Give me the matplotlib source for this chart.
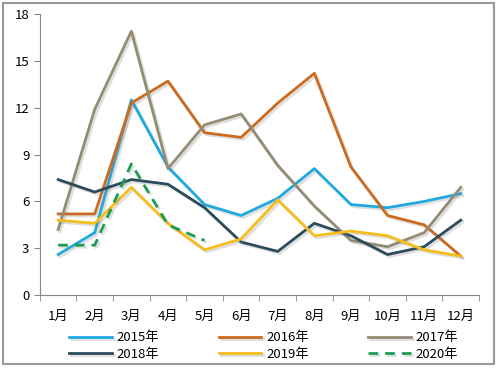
import matplotlib.pyplot as plt
import matplotlib.patheffects as pe
from matplotlib.patches import Rectangle
import numpy as np

plt.rcParams['font.family'] = ['Noto Sans CJK SC', 'DejaVu Sans']

months = ['1月', '2月', '3月', '4月', '5月', '6月', '7月', '8月', '9月', '10月', '11月', '12月']

y2015 = [2.6, 4.0, 12.5, 8.2, 5.8, 5.1, 6.2, 8.1, 5.8, 5.6, 6.0, 6.5]
y2016 = [5.2, 5.2, 12.3, 13.7, 10.4, 10.1, 12.3, 14.2, 8.2, 5.1, 4.5, 2.5]
y2017 = [4.2, 11.9, 16.9, 8.1, 10.9, 11.6, 8.3, 5.7, 3.5, 3.1, 4.0, 6.9]
y2018 = [7.4, 6.6, 7.4, 7.1, 5.6, 3.4, 2.8, 4.6, 3.8, 2.6, 3.1, 4.8]
y2019 = [4.8, 4.6, 6.9, 4.6, 2.9, 3.6, 6.1, 3.8, 4.1, 3.8, 2.9, 2.5]
y2020 = [3.2, 3.2, 8.4, 4.5, 3.5]

series = [
    ('2015年', y2015, '#1FA9DF', '-'),
    ('2016年', y2016, '#CC6A1F', '-'),
    ('2017年', y2017, '#948B73', '-'),
    ('2018年', y2018, '#2C4C5C', '-'),
    ('2019年', y2019, '#F5BD1C', '-'),
    ('2020年', y2020, '#1F9C4E', '--'),
]

fig = plt.figure(figsize=(4.98, 3.68), dpi=100)
ax = fig.add_axes([0.080, 0.198, 0.882, 0.764])

shadow = [pe.SimpleLineShadow(offset=(1.5, -1.5), shadow_color='gray', alpha=0.25), pe.Normal()]

handles = {}
for name, vals, color, ls in series:
    x = np.arange(len(vals))
    line, = ax.plot(x, vals, color=color, linestyle=ls, linewidth=2,
                    label=name, path_effects=shadow)
    if ls == '--':
        line.set_dashes((3.5, 2.5))
    handles[name] = line

ax.set_xlim(-0.5, 11.5)
ax.set_ylim(0, 18)
ax.set_yticks(np.arange(0, 19, 3))
ax.set_xticks(np.arange(12))
ax.set_xticklabels(months)
ax.set_xticks(np.arange(-0.5, 12, 1), minor=True)
ax.tick_params(axis='x', which='major', length=0, labelsize=9.5, pad=11)
ax.tick_params(axis='x', which='minor', length=4, color='#888888', direction='out')
ax.tick_params(axis='y', length=4, color='#888888', labelsize=9.5)

for s in ['top', 'right']:
    ax.spines[s].set_visible(False)
for s in ['left', 'bottom']:
    ax.spines[s].set_color('#888888')

order = ['2015年', '2018年', '2016年', '2019年', '2017年', '2020年']
fig.legend([handles[n] for n in order], order, ncol=3, loc='lower center',
           bbox_to_anchor=(0.53, -0.012), frameon=False, fontsize=9.5,
           handlelength=3.2, columnspacing=4.5, labelspacing=0.25, handletextpad=0.4)

fig.patches.append(Rectangle((0.006, 0.01), 0.985, 0.982, transform=fig.transFigure,
                             fill=False, edgecolor='#999999', linewidth=1.5))

fig.savefig('out.png', dpi=100)
